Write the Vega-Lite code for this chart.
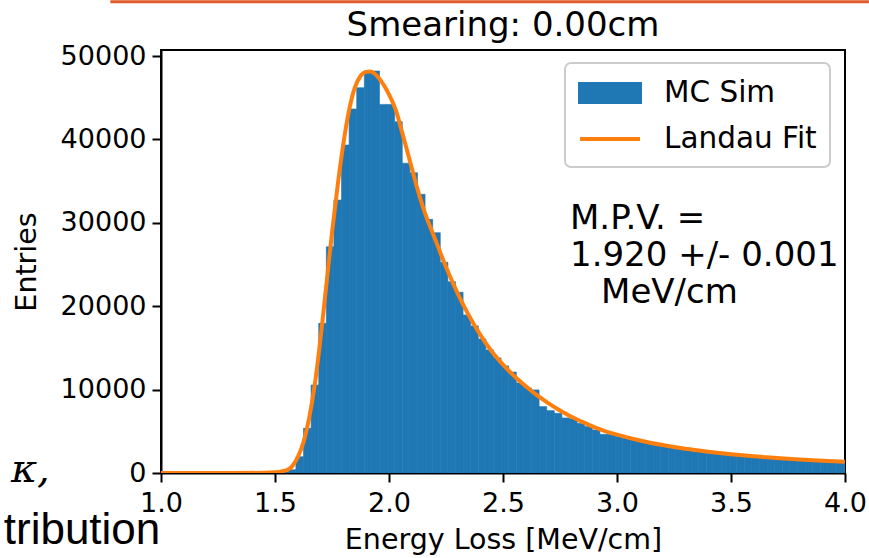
{
  "$schema": "https://vega.github.io/schema/vega-lite/v6.json",
  "width": 684,
  "height": 423,
  "autosize": {"type": "none"},
  "padding": {"left": 161, "top": 50, "right": 24, "bottom": 85},
  "background": "white",
  "title": {"text": "Smearing: 0.00cm", "fontSize": 34, "font": "DejaVu Sans", "fontWeight": "normal", "color": "black", "anchor": "middle", "frame": "group", "baseline": "bottom", "offset": 0, "dy": 77},
  "config": {
    "view": {"stroke": "black", "strokeWidth": 2},
    "axis": {"grid": false, "domainColor": "black", "domainWidth": 2, "tickColor": "black", "tickWidth": 2, "tickSize": 9, "labelColor": "black", "labelFont": "DejaVu Sans", "labelFontSize": 27, "titleFont": "DejaVu Sans", "titleFontSize": 28.5, "titleFontWeight": "normal", "titleColor": "black", "labelFlush": false, "labelOverlap": false, "labelBound": false},
    "legend": {
      "orient": "none", "legendX": 404, "legendY": 13, "title": null,
      "labelFontSize": 29.5, "labelFont": "DejaVu Sans", "labelColor": "black",
      "padding": 13, "fillColor": "white", "strokeColor": "#cccccc", "cornerRadius": 6,
      "symbolSize": 900, "labelOffset": 52, "rowPadding": 12,
      "symbolType": "M-1,-0.6H3V0.6H-1Z"
    }
  },
  "datasets": {
    "hist": [
      {"x0": 1.525, "x1": 1.5583, "count": 80},
      {"x0": 1.5583, "x1": 1.5917, "count": 400},
      {"x0": 1.5917, "x1": 1.625, "count": 1950},
      {"x0": 1.625, "x1": 1.6583, "count": 5360},
      {"x0": 1.6583, "x1": 1.6917, "count": 10550},
      {"x0": 1.6917, "x1": 1.725, "count": 17950},
      {"x0": 1.725, "x1": 1.7583, "count": 27130},
      {"x0": 1.7583, "x1": 1.7917, "count": 32730},
      {"x0": 1.7917, "x1": 1.825, "count": 39330},
      {"x0": 1.825, "x1": 1.8583, "count": 43650},
      {"x0": 1.8583, "x1": 1.8917, "count": 46200},
      {"x0": 1.8917, "x1": 1.925, "count": 48200},
      {"x0": 1.925, "x1": 1.9583, "count": 48200},
      {"x0": 1.9583, "x1": 1.9917, "count": 44200},
      {"x0": 1.9917, "x1": 2.025, "count": 44200},
      {"x0": 2.025, "x1": 2.0583, "count": 42120},
      {"x0": 2.0583, "x1": 2.0917, "count": 37150},
      {"x0": 2.0917, "x1": 2.125, "count": 36000},
      {"x0": 2.125, "x1": 2.1583, "count": 33420},
      {"x0": 2.1583, "x1": 2.1917, "count": 30420},
      {"x0": 2.1917, "x1": 2.225, "count": 28820},
      {"x0": 2.225, "x1": 2.2583, "count": 25260},
      {"x0": 2.2583, "x1": 2.2917, "count": 22940},
      {"x0": 2.2917, "x1": 2.325, "count": 21670},
      {"x0": 2.325, "x1": 2.3583, "count": 18950},
      {"x0": 2.3583, "x1": 2.3917, "count": 17640},
      {"x0": 2.3917, "x1": 2.425, "count": 16080},
      {"x0": 2.425, "x1": 2.4583, "count": 14760},
      {"x0": 2.4583, "x1": 2.4917, "count": 13800},
      {"x0": 2.4917, "x1": 2.525, "count": 12840},
      {"x0": 2.525, "x1": 2.5583, "count": 12100},
      {"x0": 2.5583, "x1": 2.5917, "count": 10800},
      {"x0": 2.5917, "x1": 2.625, "count": 10200},
      {"x0": 2.625, "x1": 2.6583, "count": 9960},
      {"x0": 2.6583, "x1": 2.6917, "count": 7960},
      {"x0": 2.6917, "x1": 2.725, "count": 7480},
      {"x0": 2.725, "x1": 2.7583, "count": 7160},
      {"x0": 2.7583, "x1": 2.7917, "count": 6600},
      {"x0": 2.7917, "x1": 2.825, "count": 6500},
      {"x0": 2.825, "x1": 2.8583, "count": 5960},
      {"x0": 2.8583, "x1": 2.8917, "count": 5560},
      {"x0": 2.8917, "x1": 2.925, "count": 5160},
      {"x0": 2.925, "x1": 2.9583, "count": 4640},
      {"x0": 2.9583, "x1": 2.9917, "count": 4640},
      {"x0": 2.9917, "x1": 3.025, "count": 4400},
      {"x0": 3.025, "x1": 3.0583, "count": 4200},
      {"x0": 3.0583, "x1": 3.0917, "count": 4000},
      {"x0": 3.0917, "x1": 3.125, "count": 3850},
      {"x0": 3.125, "x1": 3.1583, "count": 3650},
      {"x0": 3.1583, "x1": 3.1917, "count": 3500},
      {"x0": 3.1917, "x1": 3.225, "count": 3350},
      {"x0": 3.225, "x1": 3.2583, "count": 3200},
      {"x0": 3.2583, "x1": 3.2917, "count": 3050},
      {"x0": 3.2917, "x1": 3.325, "count": 2950},
      {"x0": 3.325, "x1": 3.3583, "count": 2800},
      {"x0": 3.3583, "x1": 3.3917, "count": 2700},
      {"x0": 3.3917, "x1": 3.425, "count": 2600},
      {"x0": 3.425, "x1": 3.4583, "count": 2480},
      {"x0": 3.4583, "x1": 3.4917, "count": 2400},
      {"x0": 3.4917, "x1": 3.525, "count": 2300},
      {"x0": 3.525, "x1": 3.5583, "count": 2200},
      {"x0": 3.5583, "x1": 3.5917, "count": 2100},
      {"x0": 3.5917, "x1": 3.625, "count": 2020},
      {"x0": 3.625, "x1": 3.6583, "count": 1950},
      {"x0": 3.6583, "x1": 3.6917, "count": 1870},
      {"x0": 3.6917, "x1": 3.725, "count": 1800},
      {"x0": 3.725, "x1": 3.7583, "count": 1740},
      {"x0": 3.7583, "x1": 3.7917, "count": 1680},
      {"x0": 3.7917, "x1": 3.825, "count": 1620},
      {"x0": 3.825, "x1": 3.8583, "count": 1560},
      {"x0": 3.8583, "x1": 3.8917, "count": 1510},
      {"x0": 3.8917, "x1": 3.925, "count": 1460},
      {"x0": 3.925, "x1": 3.9583, "count": 1400},
      {"x0": 3.9583, "x1": 3.9917, "count": 1360},
      {"x0": 3.9917, "x1": 4.025, "count": 1320}
    ],
    "fit": [
      {"x": 1.0, "y": 0}, {"x": 1.3, "y": 0}, {"x": 1.45, "y": 20}, {"x": 1.5, "y": 80},
      {"x": 1.53, "y": 200}, {"x": 1.555, "y": 400}, {"x": 1.575, "y": 800}, {"x": 1.6, "y": 1900},
      {"x": 1.625, "y": 3700}, {"x": 1.65, "y": 6600}, {"x": 1.675, "y": 10700}, {"x": 1.7, "y": 16200},
      {"x": 1.725, "y": 22500}, {"x": 1.75, "y": 28800}, {"x": 1.775, "y": 34500}, {"x": 1.8, "y": 39500},
      {"x": 1.825, "y": 43500}, {"x": 1.85, "y": 46200}, {"x": 1.875, "y": 47600}, {"x": 1.9, "y": 48100},
      {"x": 1.92, "y": 48150}, {"x": 1.94, "y": 47800}, {"x": 1.97, "y": 46800}, {"x": 2.0, "y": 45400},
      {"x": 2.03, "y": 43500}, {"x": 2.06, "y": 40600}, {"x": 2.09, "y": 37600}, {"x": 2.12, "y": 34500},
      {"x": 2.15, "y": 31800}, {"x": 2.2, "y": 28200}, {"x": 2.25, "y": 24700}, {"x": 2.3, "y": 21600},
      {"x": 2.35, "y": 18900}, {"x": 2.4, "y": 16600}, {"x": 2.45, "y": 14600}, {"x": 2.5, "y": 13000},
      {"x": 2.55, "y": 11600}, {"x": 2.6, "y": 10400}, {"x": 2.65, "y": 9300}, {"x": 2.7, "y": 8350},
      {"x": 2.75, "y": 7500}, {"x": 2.8, "y": 6750}, {"x": 2.85, "y": 6100}, {"x": 2.9, "y": 5500},
      {"x": 2.95, "y": 5000}, {"x": 3.0, "y": 4600}, {"x": 3.1, "y": 3900}, {"x": 3.2, "y": 3350},
      {"x": 3.3, "y": 2900}, {"x": 3.4, "y": 2550}, {"x": 3.5, "y": 2250}, {"x": 3.6, "y": 2000},
      {"x": 3.7, "y": 1800}, {"x": 3.8, "y": 1620}, {"x": 3.9, "y": 1470}, {"x": 4.0, "y": 1340}
    ]
  },
  "layer": [
    {
      "data": {"name": "hist"},
      "mark": {"type": "rect", "clip": true, "stroke": "#1f77b4", "strokeWidth": 0.6},
      "encoding": {
        "x": {"field": "x0", "type": "quantitative", "title": "Energy Loss [MeV/cm]",
              "scale": {"domain": [1, 4], "nice": false, "zero": false},
              "axis": {"values": [1, 1.5, 2, 2.5, 3, 3.5, 4], "format": ".1f", "labelPadding": 8, "titlePadding": 9}},
        "x2": {"field": "x1"},
        "y": {"field": "count", "type": "quantitative", "title": "Entries",
              "scale": {"domain": [0, 50720], "nice": false},
              "axis": {"values": [0, 10000, 20000, 30000, 40000, 50000], "format": "d", "labelPadding": 6, "titlePadding": 19}},
        "y2": {"datum": 0},
        "color": {"datum": "MC Sim", "type": "nominal",
                  "scale": {"domain": ["MC Sim", "Landau Fit"], "range": ["#1f77b4", "#ff7f0e"]},
                  "legend": {
                    "encode": {
                      "symbols": {"update": {
                        "shape": {"signal": "datum.value === 'MC Sim' ? 'M-1,-0.6H3V0.6H-1Z' : 'M-1,0H3'"},
                        "fill": {"signal": "datum.value === 'MC Sim' ? '#1f77b4' : 'transparent'"},
                        "stroke": {"signal": "datum.value === 'MC Sim' ? 'transparent' : '#ff7f0e'"},
                        "strokeWidth": {"value": 4},
                        "opacity": {"value": 1}
                      }},
                      "legend": {"update": {"strokeWidth": {"value": 2}}}
                    }
                  }}
      }
    },
    {
      "data": {"name": "fit"},
      "mark": {"type": "line", "strokeWidth": 4, "interpolate": "monotone", "clip": true},
      "encoding": {
        "x": {"field": "x", "type": "quantitative", "title": "Energy Loss [MeV/cm]"},
        "y": {"field": "y", "type": "quantitative", "title": "Entries"},
        "color": {"datum": "Landau Fit", "type": "nominal",
                  "legend": {
                    "encode": {
                      "symbols": {"update": {
                        "shape": {"signal": "datum.value === 'MC Sim' ? 'M-1,-0.6H3V0.6H-1Z' : 'M-1,0H3'"},
                        "fill": {"signal": "datum.value === 'MC Sim' ? '#1f77b4' : 'transparent'"},
                        "stroke": {"signal": "datum.value === 'MC Sim' ? 'transparent' : '#ff7f0e'"},
                        "strokeWidth": {"value": 4},
                        "opacity": {"value": 1}
                      }},
                      "legend": {"update": {"strokeWidth": {"value": 2}}}
                    }
                  }}
      }
    },
    {
      "data": {"values": [{}]},
      "mark": {"type": "text", "text": ["M.P.V. =", "1.920 +/- 0.001"], "align": "left", "baseline": "alphabetic", "fontSize": 34, "font": "DejaVu Sans", "color": "black", "lineHeight": 37},
      "encoding": {
        "x": {"datum": 2.794, "type": "quantitative", "title": "Energy Loss [MeV/cm]"},
        "y": {"datum": 29260, "type": "quantitative", "title": "Entries"}
      }
    },
    {
      "data": {"values": [{}]},
      "mark": {"type": "text", "text": "MeV/cm", "align": "left", "baseline": "alphabetic", "fontSize": 34, "font": "DejaVu Sans", "color": "black"},
      "encoding": {
        "x": {"datum": 2.93, "type": "quantitative", "title": "Energy Loss [MeV/cm]"},
        "y": {"datum": 20390, "type": "quantitative", "title": "Entries"}
      }
    },
    {
      "data": {"values": [{}]},
      "mark": {"type": "text", "text": "κ,", "fontSize": 40, "font": "DejaVu Serif", "fontStyle": "italic", "align": "center", "baseline": "middle", "color": "black"},
      "encoding": {
        "x": {"datum": 0.427, "type": "quantitative", "title": "Energy Loss [MeV/cm]"},
        "y": {"datum": 360, "type": "quantitative", "title": "Entries"}
      }
    },
    {
      "data": {"values": [{}]},
      "mark": {"type": "text", "text": "tribution", "fontSize": 44, "font": "Liberation Sans", "align": "right", "baseline": "middle", "color": "black"},
      "encoding": {
        "x": {"datum": 0.997, "type": "quantitative", "title": "Energy Loss [MeV/cm]"},
        "y": {"datum": -6900, "type": "quantitative", "title": "Entries"}
      }
    },
    {
      "data": {"values": [{}]},
      "mark": {"type": "rule", "color": "#e05a2b", "strokeWidth": 3},
      "encoding": {
        "x": {"datum": 0.778, "type": "quantitative", "title": "Energy Loss [MeV/cm]"},
        "x2": {"datum": 4.105},
        "y": {"datum": 56500, "type": "quantitative", "title": "Entries"}
      }
    }
  ]
}
